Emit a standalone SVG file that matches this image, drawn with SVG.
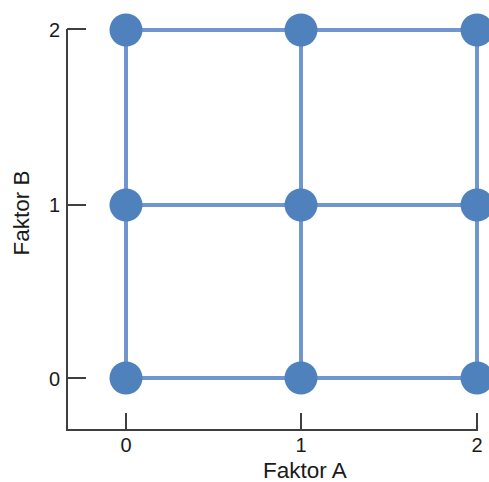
<svg xmlns="http://www.w3.org/2000/svg" width="489" height="482" viewBox="0 0 489 482">
<style>
.ax{stroke:#3f3f3f;stroke-width:2;fill:none}
.ln{stroke:#7097cd;stroke-width:4;fill:none}
.nd{fill:#4f81bd}
.tk{font-family:"Liberation Sans",Arial,sans-serif;font-size:20px;fill:#1a1a1a}
.tt{font-family:"Liberation Sans",Arial,sans-serif;font-size:22.5px;fill:#1a1a1a}
</style>
<rect width="489" height="482" fill="#fff"/>
<g id="axes">
<path class="ax" d="M67 29V431M66 430H478M67 29H86M67 205H86M67 378H86M126 413V430M301 413V430M477 413V430"/>
<text class="tk" x="60" y="37" text-anchor="end">2</text>
<text class="tk" x="60" y="212" text-anchor="end">1</text>
<text class="tk" x="60" y="386" text-anchor="end">0</text>
<text class="tk" x="126" y="452" text-anchor="middle">0</text>
<text class="tk" x="301" y="452" text-anchor="middle">1</text>
<text class="tk" x="477" y="452" text-anchor="middle">2</text>
<text class="tt" x="305" y="478" text-anchor="middle">Faktor A</text>
<text class="tt" transform="translate(29 213) rotate(-90)" text-anchor="middle">Faktor B</text>
</g>
<g id="connectors">
<path class="ln" d="M126 30H477M126 205H477M126 378H477M126 30V378M301 30V378M477 30V378"/>
</g>
<g id="n00"><circle class="nd" cx="126" cy="378" r="16.5"/></g>
<g id="n10"><circle class="nd" cx="301" cy="378" r="16.5"/></g>
<g id="n20"><circle class="nd" cx="477" cy="378" r="16.5"/></g>
<g id="n01"><circle class="nd" cx="126" cy="205" r="16.5"/></g>
<g id="n11"><circle class="nd" cx="301" cy="205" r="16.5"/></g>
<g id="n21"><circle class="nd" cx="477" cy="205" r="16.5"/></g>
<g id="n02"><circle class="nd" cx="126" cy="30" r="16.5"/></g>
<g id="n12"><circle class="nd" cx="301" cy="30" r="16.5"/></g>
<g id="n22"><circle class="nd" cx="477" cy="30" r="16.5"/></g>
</svg>
